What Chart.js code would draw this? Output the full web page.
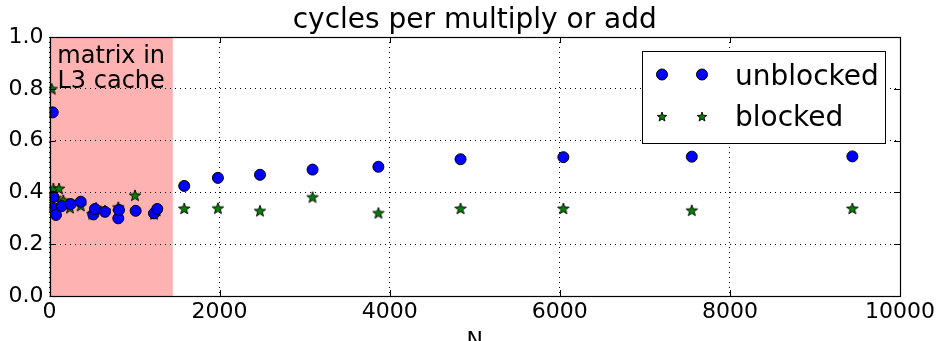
<!DOCTYPE html>
<html>
<head>
<meta charset="utf-8">
<script src="https://cdn.jsdelivr.net/npm/chart.js@4.4.1/dist/chart.umd.min.js"></script>
<style>
html,body{margin:0;padding:0;background:#fff;}
#wrap{width:943px;height:341px;position:relative;}
canvas{display:block;}
</style>
</head>
<body>
<div id="wrap"><canvas id="c" width="943" height="341"></canvas></div>
<script>
// ---- data ----
const chartTitle = "cycles per multiply or add";
const xAxisTitle = "N";
const seriesNames = ["unblocked", "blocked"];
const spanLabel = ["matrix in", "L3 cache"];
const spanRange = [0, 1450];
const xTicks = [0, 2000, 4000, 6000, 8000, 10000];
const yTicks = [0.0, 0.2, 0.4, 0.6, 0.8, 1.0];

const unblockedN = [38, 45, 45, 76, 143, 249, 367, 515, 535, 652, 809, 817, 1013, 1229, 1267,
  1584, 1980, 2475, 3093, 3867, 4833, 6042, 7552, 9440];
const unblockedCycles = [0.709, 0.383, 0.339, 0.313, 0.347, 0.355, 0.364, 0.315, 0.336, 0.325, 0.300, 0.332, 0.329, 0.319, 0.336,
  0.425, 0.456, 0.468, 0.488, 0.499, 0.528, 0.536, 0.538, 0.539];

const blockedN = [26, 45, 112, 73, 162, 241, 367, 503, 547, 652, 809, 809, 1005, 1229, 1260,
  1584, 1980, 2475, 3093, 3867, 4833, 6042, 7552, 9440];
const blockedCycles = [0.798, 0.413, 0.413, 0.377, 0.368, 0.339, 0.347, 0.315, 0.339, 0.328, 0.341, 0.325, 0.387, 0.315, 0.328,
  0.336, 0.337, 0.327, 0.380, 0.319, 0.336, 0.336, 0.329, 0.336];

// ---- helpers ----
const FONT = "'DejaVu Sans', 'Liberation Sans', sans-serif";
function makeStar(R, fill) {
  const s = Math.ceil(R * 2 + 4);
  const c = document.createElement('canvas');
  c.width = s; c.height = s;
  const g = c.getContext('2d');
  const cx = s / 2, cy = s / 2, r = R * 0.42;
  g.beginPath();
  for (let i = 0; i < 10; i++) {
    const rad = (i % 2) ? r : R;
    const a = -Math.PI / 2 + i * Math.PI / 5;
    g.lineTo(cx + rad * Math.cos(a), cy + rad * Math.sin(a));
  }
  g.closePath();
  g.fillStyle = fill; g.fill();
  g.lineWidth = 0.9; g.strokeStyle = '#000'; g.stroke();
  return c;
}
const starBig = makeStar(6, '#008000');
const starSmall = makeStar(5, '#008000');

const toPts = (xs, ys) => xs.map((x, i) => ({x: x, y: ys[i]}));

const framePlugin = {
  id: 'mplframe',
  beforeDraw(chart) {
    const ctx = chart.ctx, a = chart.chartArea, xs = chart.scales.x;
    ctx.save();
    ctx.fillStyle = '#fff';
    ctx.fillRect(0, 0, chart.width, chart.height);
    // shaded span
    const x0 = xs.getPixelForValue(spanRange[0]), x1 = xs.getPixelForValue(spanRange[1]);
    ctx.fillStyle = '#ffb2b2';
    ctx.fillRect(x0, a.top, x1 - x0, a.bottom - a.top);
    ctx.restore();
  },
  beforeDatasetsDraw(chart) {
    const ctx = chart.ctx, xs = chart.scales.x, a = chart.chartArea;
    const cx = (xs.getPixelForValue(spanRange[0]) + xs.getPixelForValue(spanRange[1])) / 2;
    ctx.save();
    ctx.fillStyle = '#000';
    ctx.font = "24px " + FONT;
    ctx.textAlign = 'center';
    ctx.textBaseline = 'alphabetic';
    ctx.fillText(spanLabel[0], cx, a.top + 26);
    ctx.fillText(spanLabel[1], cx, a.top + 51);
    ctx.restore();
  },
  afterDatasetsDraw(chart) {
    const ctx = chart.ctx, a = chart.chartArea, xs = chart.scales.x, ys = chart.scales.y;
    ctx.save();
    ctx.strokeStyle = '#000';
    ctx.lineWidth = 1;
    // inward ticks on all four sides
    const L = 6;
    ctx.beginPath();
    xTicks.forEach(v => {
      const p = Math.round(xs.getPixelForValue(v)) + 0.5;
      ctx.moveTo(p, a.bottom); ctx.lineTo(p, a.bottom - L);
      ctx.moveTo(p, a.top); ctx.lineTo(p, a.top + L);
    });
    yTicks.forEach(v => {
      const p = Math.round(ys.getPixelForValue(v)) + 0.5;
      ctx.moveTo(a.left, p); ctx.lineTo(a.left + L, p);
      ctx.moveTo(a.right, p); ctx.lineTo(a.right - L, p);
    });
    ctx.stroke();
    // frame
    ctx.lineWidth = 1.2;
    ctx.strokeRect(Math.round(a.left) + 0.5, Math.round(a.top) + 0.5,
      Math.round(a.right) - Math.round(a.left), Math.round(a.bottom) - Math.round(a.top));
    ctx.restore();
  },
  afterDraw(chart) {
    const ctx = chart.ctx, a = chart.chartArea;
    ctx.save();
    // title
    ctx.fillStyle = '#000';
    ctx.font = "28px " + FONT;
    ctx.textAlign = 'center';
    ctx.textBaseline = 'alphabetic';
    ctx.fillText(chartTitle, (a.left + a.right) / 2, 28);
    // x axis title (cut off at bottom as in the reference)
    ctx.font = "22px " + FONT;
    ctx.textBaseline = 'top';
    ctx.fillText(xAxisTitle, (a.left + a.right) / 2, a.bottom + 34);
    // legend
    const bx = 642.5, by = 51.5, bw = 243, bh = 92;
    ctx.fillStyle = '#fff';
    ctx.fillRect(bx, by, bw, bh);
    ctx.strokeStyle = '#000';
    ctx.lineWidth = 1;
    ctx.strokeRect(bx, by, bw, bh);
    const rows = [74.5, 117];
    [662, 702].forEach(mx => {
      ctx.beginPath();
      ctx.arc(mx, rows[0], 5.5, 0, Math.PI * 2);
      ctx.fillStyle = '#0000ff'; ctx.fill();
      ctx.lineWidth = 1; ctx.strokeStyle = '#000'; ctx.stroke();
      ctx.drawImage(starSmall, mx - starSmall.width / 2, rows[1] - starSmall.height / 2);
    });
    ctx.fillStyle = '#000';
    ctx.font = "28px " + FONT;
    ctx.textAlign = 'left';
    ctx.textBaseline = 'alphabetic';
    ctx.fillText(seriesNames[0], 735, 85);
    ctx.fillText(seriesNames[1], 735, 126);
    ctx.restore();
  }
};

new Chart(document.getElementById('c'), {
  type: 'scatter',
  data: {
    datasets: [
      {
        label: seriesNames[0],
        data: toPts(unblockedN, unblockedCycles),
        pointStyle: 'circle',
        pointRadius: 5.5,
        pointHoverRadius: 5.5,
        backgroundColor: '#0000ff',
        borderColor: '#000',
        borderWidth: 1,
        clip: 0
      },
      {
        label: seriesNames[1],
        data: toPts(blockedN, blockedCycles),
        pointStyle: starBig,
        pointRadius: 6,
        pointHoverRadius: 6,
        backgroundColor: '#008000',
        borderColor: '#000',
        borderWidth: 1,
        clip: 0
      }
    ]
  },
  options: {
    responsive: false,
    animation: false,
    events: [],
    layout: { padding: { top: 37, right: 43, left: 0, bottom: 0 } },
    plugins: { legend: { display: false }, title: { display: false }, tooltip: { enabled: false } },
    scales: {
      x: {
        type: 'linear',
        min: 0, max: 10000,
        afterBuildTicks: s => { s.ticks = xTicks.map(v => ({value: v})); },
        afterFit: s => { s.height = 45; s.paddingLeft = 0; s.paddingRight = 0; },
        ticks: {
          color: '#000',
          font: { family: FONT, size: 22 },
          padding: 3,
          maxRotation: 0,
          autoSkip: false,
          callback: v => String(v)
        },
        grid: { color: '#000', lineWidth: 1, drawTicks: false, tickBorderDash: [1, 4] , borderDash: [1, 4] },
        border: { display: false, dash: [1, 4] }
      },
      y: {
        type: 'linear',
        min: 0, max: 1,
        afterBuildTicks: s => { s.ticks = yTicks.map(v => ({value: v})); },
        afterFit: s => { s.width = 49.5; s.paddingTop = 0; s.paddingBottom = 0; },
        ticks: {
          color: '#000',
          font: { family: FONT, size: 22 },
          padding: 6,
          autoSkip: false,
          callback: v => Number(v).toFixed(1)
        },
        grid: { color: '#000', lineWidth: 1, drawTicks: false },
        border: { display: false, dash: [1, 4] }
      }
    }
  },
  plugins: [framePlugin]
});
</script>
</body>
</html>
